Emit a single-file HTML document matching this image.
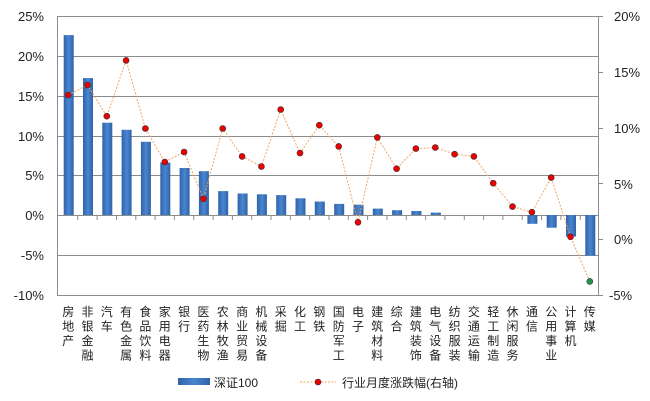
<!DOCTYPE html>
<html><head><meta charset="utf-8"><style>
body{margin:0;background:#fff;}
svg{display:block;font-family:"Liberation Sans","Noto Sans CJK SC",sans-serif;}
</style></head><body>
<svg width="650" height="401" viewBox="0 0 650 401" xmlns="http://www.w3.org/2000/svg">
<defs>
<linearGradient id="g" x1="0" x2="1" y1="0" y2="0">
<stop offset="0" stop-color="#2f62a8"/><stop offset="0.5" stop-color="#4a86d0"/><stop offset="1" stop-color="#2f62a8"/>
</linearGradient>
</defs>
<g stroke="#8c8c8c" stroke-width="1">
<line x1="57" y1="16.5" x2="598" y2="16.5"/>
<line x1="57" y1="56.5" x2="598" y2="56.5"/>
<line x1="57" y1="96.5" x2="598" y2="96.5"/>
<line x1="57" y1="136.5" x2="598" y2="136.5"/>
<line x1="57" y1="175.5" x2="598" y2="175.5"/>
<line x1="57" y1="255.5" x2="598" y2="255.5"/>
<line x1="57" y1="295.5" x2="598" y2="295.5"/>
<line x1="57.5" y1="16" x2="57.5" y2="295"/>
<line x1="598.5" y1="16" x2="598.5" y2="295"/>
<line x1="57" y1="215.5" x2="598" y2="215.5"/>
<line x1="598" y1="16.5" x2="603" y2="16.5"/><line x1="598" y1="72.5" x2="603" y2="72.5"/>
<line x1="598" y1="128.5" x2="603" y2="128.5"/><line x1="598" y1="183.5" x2="603" y2="183.5"/>
<line x1="598" y1="239.5" x2="603" y2="239.5"/><line x1="598" y1="295.5" x2="603" y2="295.5"/>
</g>
<g font-size="13" fill="#222" text-anchor="end">
<text x="44" y="21">25%</text><text x="44" y="61">20%</text><text x="44" y="101">15%</text>
<text x="44" y="141">10%</text><text x="44" y="180">5%</text><text x="44" y="220">0%</text>
<text x="44" y="260">-5%</text><text x="44" y="300">-10%</text>
</g>
<g font-size="13" fill="#222">
<text x="614" y="21">20%</text><text x="614" y="77">15%</text><text x="614" y="133">10%</text>
<text x="614" y="189">5%</text><text x="614" y="244">0%</text><text x="609" y="300">-5%</text>
</g>
<g transform="translate(1.5,0)">
<g fill="url(#g)" transform="translate(1,0)">
<rect x="61.2" y="35.1" width="10" height="179.9"/>
<rect x="80.5" y="78.1" width="10" height="136.9"/>
<rect x="99.8" y="122.7" width="10" height="92.3"/>
<rect x="119.1" y="129.8" width="10" height="85.2"/>
<rect x="138.4" y="141.8" width="10" height="73.2"/>
<rect x="157.8" y="162.5" width="10" height="52.5"/>
<rect x="177.1" y="168" width="10" height="47"/>
<rect x="196.4" y="171.2" width="10" height="43.8"/>
<rect x="215.7" y="191.1" width="10" height="23.9"/>
<rect x="235.1" y="193.5" width="10" height="21.5"/>
<rect x="254.4" y="194.3" width="10" height="20.7"/>
<rect x="273.7" y="195.1" width="10" height="19.9"/>
<rect x="293" y="198.3" width="10" height="16.7"/>
<rect x="312.3" y="201.5" width="10" height="13.5"/>
<rect x="331.7" y="203.9" width="10" height="11.1"/>
<rect x="351" y="204.7" width="10" height="10.3"/>
<rect x="370.3" y="208.6" width="10" height="6.4"/>
<rect x="389.6" y="210.2" width="10" height="4.8"/>
<rect x="408.9" y="211" width="10" height="4"/>
<rect x="428.3" y="212.6" width="10" height="2.4"/>
<rect x="524.9" y="215" width="10" height="8.8"/>
<rect x="544.2" y="215" width="10" height="12.7"/>
<rect x="563.5" y="215" width="10" height="21.5"/>
<rect x="582.8" y="215" width="10" height="40.6"/>
</g>
<g stroke="#8c8c8c">
<line x1="76.3" y1="215" x2="76.3" y2="220"/><line x1="95.6" y1="215" x2="95.6" y2="220"/>
<line x1="115" y1="215" x2="115" y2="220"/><line x1="134.3" y1="215" x2="134.3" y2="220"/>
<line x1="153.6" y1="215" x2="153.6" y2="220"/><line x1="172.9" y1="215" x2="172.9" y2="220"/>
<line x1="192.3" y1="215" x2="192.3" y2="220"/><line x1="211.6" y1="215" x2="211.6" y2="220"/>
<line x1="230.9" y1="215" x2="230.9" y2="220"/><line x1="250.2" y1="215" x2="250.2" y2="220"/>
<line x1="269.5" y1="215" x2="269.5" y2="220"/><line x1="288.9" y1="215" x2="288.9" y2="220"/>
<line x1="308.2" y1="215" x2="308.2" y2="220"/><line x1="327.5" y1="215" x2="327.5" y2="220"/>
<line x1="346.8" y1="215" x2="346.8" y2="220"/><line x1="366.1" y1="215" x2="366.1" y2="220"/>
<line x1="385.5" y1="215" x2="385.5" y2="220"/><line x1="404.8" y1="215" x2="404.8" y2="220"/>
<line x1="424.1" y1="215" x2="424.1" y2="220"/><line x1="443.4" y1="215" x2="443.4" y2="220"/>
<line x1="462.8" y1="215" x2="462.8" y2="220"/><line x1="482.1" y1="215" x2="482.1" y2="220"/>
<line x1="501.4" y1="215" x2="501.4" y2="220"/><line x1="520.7" y1="215" x2="520.7" y2="220"/>
<line x1="540" y1="215" x2="540" y2="220"/><line x1="559.4" y1="215" x2="559.4" y2="220"/>
<line x1="578.7" y1="215" x2="578.7" y2="220"/>
</g>
<polyline fill="none" stroke="#f4a460" stroke-width="1" stroke-dasharray="2,1.5" points="66.7,95 86,85 105.3,116.2 124.6,60.4 143.9,128.5 163.3,162 182.6,152 201.9,198.8 221.2,128.5 240.6,156.4 259.9,166.5 279.2,109.5 298.5,153.1 317.8,125.2 337.2,146.4 356.5,222.3 375.8,137.4 395.1,168.7 414.4,148.6 433.8,147.5 453.1,154.2 472.4,156.4 491.7,183.2 511,206.6 530.4,212.2 549.7,177.6 569,236.8 588.3,281.4"/>
<g fill="#e00" stroke="#333" stroke-width="0.6">
<circle cx="66.7" cy="95" r="3"/><circle cx="86" cy="85" r="3"/><circle cx="105.3" cy="116.2" r="3"/>
<circle cx="124.6" cy="60.4" r="3"/><circle cx="143.9" cy="128.5" r="3"/><circle cx="163.3" cy="162" r="3"/>
<circle cx="182.6" cy="152" r="3"/><circle cx="201.9" cy="198.8" r="3"/><circle cx="221.2" cy="128.5" r="3"/>
<circle cx="240.6" cy="156.4" r="3"/><circle cx="259.9" cy="166.5" r="3"/><circle cx="279.2" cy="109.5" r="3"/>
<circle cx="298.5" cy="153.1" r="3"/><circle cx="317.8" cy="125.2" r="3"/><circle cx="337.2" cy="146.4" r="3"/>
<circle cx="356.5" cy="222.3" r="3"/><circle cx="375.8" cy="137.4" r="3"/><circle cx="395.1" cy="168.7" r="3"/>
<circle cx="414.4" cy="148.6" r="3"/><circle cx="433.8" cy="147.5" r="3"/><circle cx="453.1" cy="154.2" r="3"/>
<circle cx="472.4" cy="156.4" r="3"/><circle cx="491.7" cy="183.2" r="3"/><circle cx="511" cy="206.6" r="3"/>
<circle cx="530.4" cy="212.2" r="3"/><circle cx="549.7" cy="177.6" r="3"/><circle cx="569" cy="236.8" r="3"/>
<circle cx="588.3" cy="281.4" r="3" fill="#1a9a4a"/>
</g>
<g font-size="12" fill="#222" text-anchor="middle">
<text x="66.7" y="316">房</text><text x="66.7" y="330.5">地</text><text x="66.7" y="345">产</text>
<text x="86" y="316">非</text><text x="86" y="330.5">银</text><text x="86" y="345">金</text><text x="86" y="359.5">融</text>
<text x="105.3" y="316">汽</text><text x="105.3" y="330.5">车</text>
<text x="124.6" y="316">有</text><text x="124.6" y="330.5">色</text><text x="124.6" y="345">金</text><text x="124.6" y="359.5">属</text>
<text x="143.9" y="316">食</text><text x="143.9" y="330.5">品</text><text x="143.9" y="345">饮</text><text x="143.9" y="359.5">料</text>
<text x="163.3" y="316">家</text><text x="163.3" y="330.5">用</text><text x="163.3" y="345">电</text><text x="163.3" y="359.5">器</text>
<text x="182.6" y="316">银</text><text x="182.6" y="330.5">行</text>
<text x="201.9" y="316">医</text><text x="201.9" y="330.5">药</text><text x="201.9" y="345">生</text><text x="201.9" y="359.5">物</text>
<text x="221.2" y="316">农</text><text x="221.2" y="330.5">林</text><text x="221.2" y="345">牧</text><text x="221.2" y="359.5">渔</text>
<text x="240.6" y="316">商</text><text x="240.6" y="330.5">业</text><text x="240.6" y="345">贸</text><text x="240.6" y="359.5">易</text>
<text x="259.9" y="316">机</text><text x="259.9" y="330.5">械</text><text x="259.9" y="345">设</text><text x="259.9" y="359.5">备</text>
<text x="279.2" y="316">采</text><text x="279.2" y="330.5">掘</text>
<text x="298.5" y="316">化</text><text x="298.5" y="330.5">工</text>
<text x="317.8" y="316">钢</text><text x="317.8" y="330.5">铁</text>
<text x="337.2" y="316">国</text><text x="337.2" y="330.5">防</text><text x="337.2" y="345">军</text><text x="337.2" y="359.5">工</text>
<text x="356.5" y="316">电</text><text x="356.5" y="330.5">子</text>
<text x="375.8" y="316">建</text><text x="375.8" y="330.5">筑</text><text x="375.8" y="345">材</text><text x="375.8" y="359.5">料</text>
<text x="395.1" y="316">综</text><text x="395.1" y="330.5">合</text>
<text x="414.4" y="316">建</text><text x="414.4" y="330.5">筑</text><text x="414.4" y="345">装</text><text x="414.4" y="359.5">饰</text>
<text x="433.8" y="316">电</text><text x="433.8" y="330.5">气</text><text x="433.8" y="345">设</text><text x="433.8" y="359.5">备</text>
<text x="453.1" y="316">纺</text><text x="453.1" y="330.5">织</text><text x="453.1" y="345">服</text><text x="453.1" y="359.5">装</text>
<text x="472.4" y="316">交</text><text x="472.4" y="330.5">通</text><text x="472.4" y="345">运</text><text x="472.4" y="359.5">输</text>
<text x="491.7" y="316">轻</text><text x="491.7" y="330.5">工</text><text x="491.7" y="345">制</text><text x="491.7" y="359.5">造</text>
<text x="511" y="316">休</text><text x="511" y="330.5">闲</text><text x="511" y="345">服</text><text x="511" y="359.5">务</text>
<text x="530.4" y="316">通</text><text x="530.4" y="330.5">信</text>
<text x="549.7" y="316">公</text><text x="549.7" y="330.5">用</text><text x="549.7" y="345">事</text><text x="549.7" y="359.5">业</text>
<text x="569" y="316">计</text><text x="569" y="330.5">算</text><text x="569" y="345">机</text>
<text x="588.3" y="316">传</text><text x="588.3" y="330.5">媒</text>
</g>
</g>
<rect x="178" y="378" width="32" height="7" fill="url(#g)"/>
<text x="214" y="387" font-size="12" fill="#222">深证100</text>
<line x1="300" y1="382" x2="336" y2="382" stroke="#f4a460" stroke-dasharray="2,1.5"/>
<circle cx="318" cy="382" r="3" fill="#e00" stroke="#333" stroke-width="0.6"/>
<text x="342" y="387" font-size="12" fill="#222">行业月度涨跌幅(右轴)</text>
</svg>
</body></html>
